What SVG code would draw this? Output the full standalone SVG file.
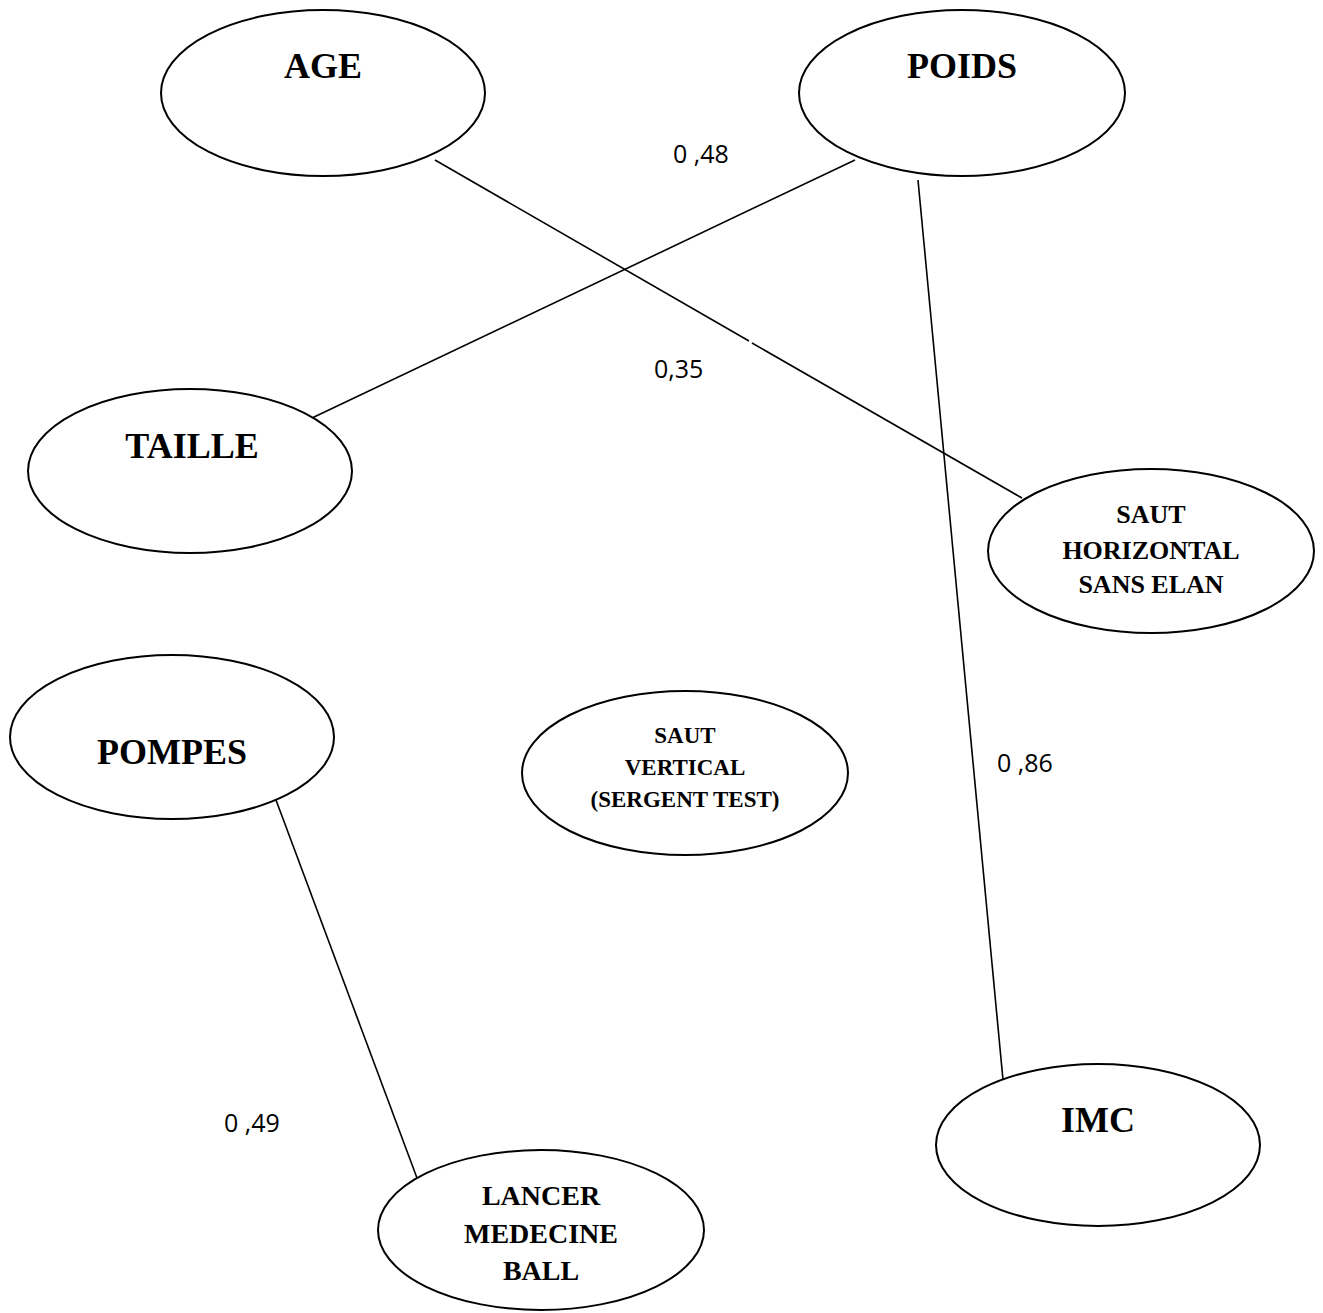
<svg xmlns="http://www.w3.org/2000/svg" width="1323" height="1313" viewBox="0 0 1323 1313">
<style>
.node ellipse{fill:#fff;stroke:#000;stroke-width:2}
.t{font-family:"Liberation Serif","Times New Roman",serif;font-weight:bold;text-anchor:middle;fill:#000}
.big{font-size:36px}
.lbl{font-family:"Open Sans","Liberation Sans",sans-serif;font-size:25px;fill:#000}
.edges line{stroke:#000;stroke-width:1.6}
</style>
<rect width="1323" height="1313" fill="#fff"/>
<g id="connectors" class="edges">
<line x1="435" y1="160" x2="749" y2="341"/>
<line x1="752" y1="343" x2="1022" y2="498"/>
<line x1="855" y1="160" x2="312" y2="418"/>
<line x1="918" y1="180" x2="1003" y2="1080"/>
<line x1="276" y1="800" x2="417" y2="1178"/>
</g>
<g id="age" class="node"><ellipse cx="323" cy="93" rx="162" ry="83"/><text class="t big" x="323" y="78">AGE</text></g>
<g id="poids" class="node"><ellipse cx="962" cy="93" rx="163" ry="83"/><text class="t big" x="962" y="78">POIDS</text></g>
<g id="taille" class="node"><ellipse cx="190" cy="471" rx="162" ry="82"/><text class="t big" x="192" y="458">TAILLE</text></g>
<g id="saut-horizontal" class="node"><ellipse cx="1151" cy="551" rx="163" ry="82"/>
<text class="t" font-size="26" x="1151" y="523">SAUT</text>
<text class="t" font-size="26" x="1151" y="559">HORIZONTAL</text>
<text class="t" font-size="26" x="1151" y="593">SANS ELAN</text></g>
<g id="saut-vertical" class="node"><ellipse cx="685" cy="773" rx="163" ry="82"/>
<text class="t" font-size="23" x="685" y="743">SAUT</text>
<text class="t" font-size="23" x="685" y="775">VERTICAL</text>
<text class="t" font-size="23" x="685" y="807">(SERGENT TEST)</text></g>
<g id="pompes" class="node"><ellipse cx="172" cy="737" rx="162" ry="82"/><text class="t big" x="172" y="764">POMPES</text></g>
<g id="imc" class="node"><ellipse cx="1098" cy="1145" rx="162" ry="81"/><text class="t big" x="1098" y="1132">IMC</text></g>
<g id="lancer" class="node"><ellipse cx="541" cy="1230" rx="163" ry="80"/>
<text class="t" font-size="28" x="541" y="1205">LANCER</text>
<text class="t" font-size="28" x="541" y="1243">MEDECINE</text>
<text class="t" font-size="28" x="541" y="1280">BALL</text></g>
<g id="labels">
<text class="lbl" x="673" y="163">0 ,48</text>
<text class="lbl" x="654" y="378">0,35</text>
<text class="lbl" x="997" y="772">0 ,86</text>
<text class="lbl" x="224" y="1132">0 ,49</text>
</g>
</svg>
